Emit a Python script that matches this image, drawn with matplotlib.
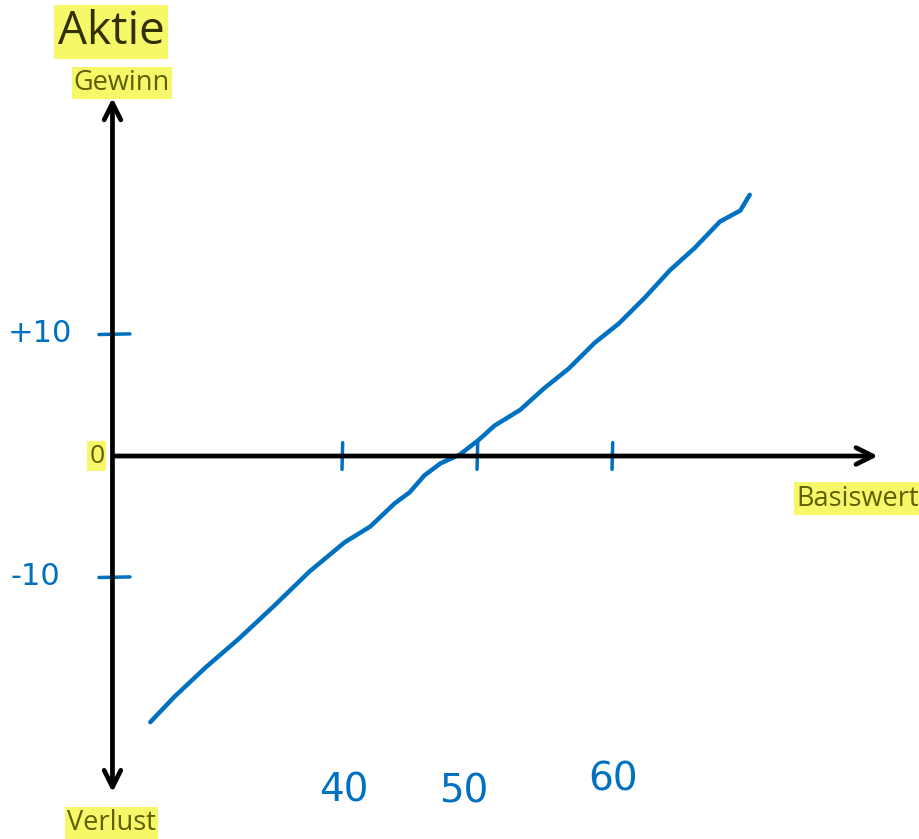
import numpy as np
import matplotlib
matplotlib.use('Agg')
from matplotlib import pyplot as plt

# hand drawn stock line (Basiswert -> Gewinn/Verlust)
basiswert = [25.8, 27.6, 29.9, 32.4, 35.0, 37.6, 40.2, 42.1, 43.9, 45.0, 46.1, 47.3, 48.7,
             50.1, 51.3, 53.2, 55.0, 56.8, 58.7, 60.5, 62.4, 64.3, 66.1, 68.0, 69.5, 70.2]
gewinn = [-21.9, -19.8, -17.4, -15.0, -12.3, -9.5, -7.1, -5.8, -3.9, -3.0, -1.6, -0.6, 0.1,
          1.3, 2.5, 3.8, 5.6, 7.2, 9.3, 10.9, 13.0, 15.3, 17.1, 19.3, 20.2, 21.5]

xticks = [40, 50, 60]
xticklabels = ['40', '50', '60']
yticks = [10, -10]
yticklabels = ['+10', '-10']

blue = '#0070c0'
olive = '#5f5f00'
hl = '#f7f76a'

fig = plt.figure(figsize=(9.2, 8.39), dpi=100)
ax = fig.add_axes([0, 0, 1, 1])
ax.set_xlim(14.67, 82.81)
ax.set_ylim(-31.52, 37.53)
ax.axis('off')

x0 = 23.0
# axes arrows
ax.annotate('', xy=(x0, 29.7), xytext=(x0, -27.9),
            arrowprops=dict(arrowstyle='<->', lw=3.4, color='black', mutation_scale=30))
ax.annotate('', xy=(79.9, 0), xytext=(x0, 0),
            arrowprops=dict(arrowstyle='->', lw=3.4, color='black', mutation_scale=30))

# line
ax.plot(basiswert, gewinn, color=blue, lw=3.2, solid_capstyle='round', solid_joinstyle='round')

# tick marks
for t in xticks:
    ax.plot([t, t + 0.05], [-1.1, 1.1], color=blue, lw=2.5, solid_capstyle='round')
for t in yticks:
    ax.plot([x0 - 1.0, x0 + 1.3], [t, t + 0.05], color=blue, lw=2.5, solid_capstyle='round')

# hand written labels
ax.text(40.1, -27.5, xticklabels[0], color=blue, fontsize=28, ha='center', va='center')
ax.text(49.0, -27.6, xticklabels[1], color=blue, fontsize=28, ha='center', va='center')
ax.text(60.1, -26.6, xticklabels[2], color=blue, fontsize=28, ha='center', va='center')
ax.text(17.6, 10.1, yticklabels[0], color=blue, fontsize=22, ha='center', va='center')
ax.text(17.3, -9.9, yticklabels[1], color=blue, fontsize=22, ha='center', va='center')

# highlighted labels
box = dict(boxstyle='square,pad=0.08', facecolor=hl, edgecolor='none')
ax.text(82.7, -3.5, 'Basiswert', color=olive, fontsize=19.5, ha='right', va='center',
        family='Open Sans', bbox=box)
ax.text(23.7, 30.7, 'Gewinn', color=olive, fontsize=19.5, ha='center', va='center',
        family='Open Sans', bbox=box)
ax.text(22.9, -30.2, 'Verlust', color=olive, fontsize=19.5, ha='center', va='center',
        family='Open Sans', bbox=box)
ax.text(x0 - 0.6, 0, '0', color=olive, fontsize=19, ha='right', va='center',
        family='Open Sans', bbox=box)
ax.text(22.9, 34.9, 'Aktie', color='#303000', fontsize=33, ha='center', va='center',
        family='Open Sans', bbox=box)

fig.savefig('out.png', dpi=100)
